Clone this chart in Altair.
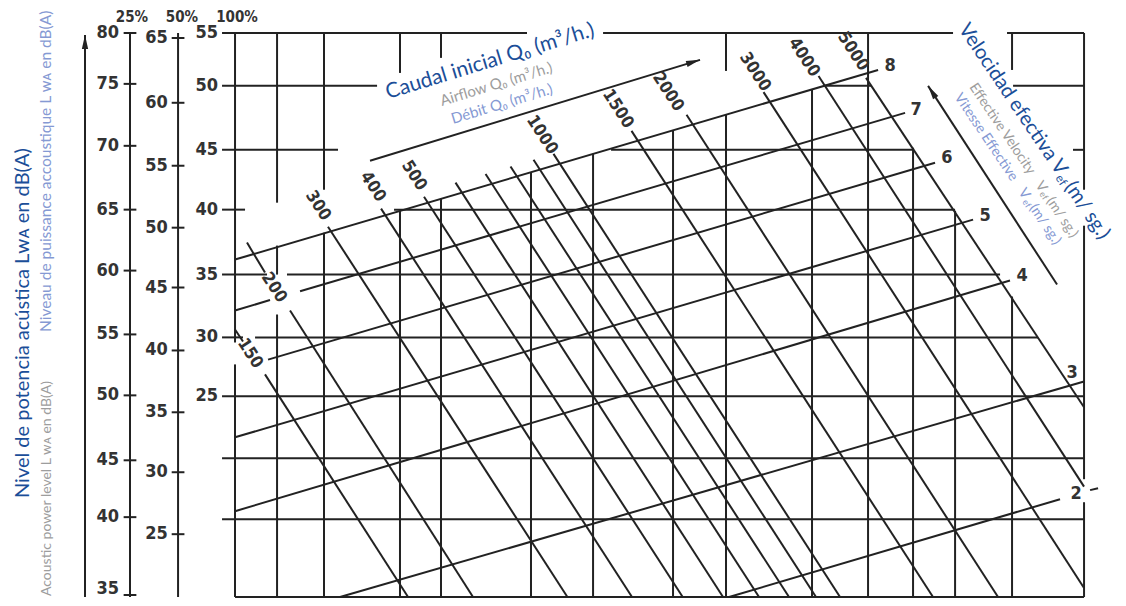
import altair as alt
import pandas as pd

# ---------------------------------------------------------------------------
# DATA
# y : sound power level dB(A) on the 100 % scale ; x : position across the grid (0..100, unlabelled)
# ---------------------------------------------------------------------------
H_LEVELS = [54.29, 50.04, 44.90, 40.09, 34.87, 29.82, 25.08, 20.10, 15.21, 8.95]
H_SPANS = [
    [(-1.53, 34.39), (43.35, 84.57), (90.93, 100.0)],
    [(-1.53, 16.73), (69.49, 74.91), (91.64, 100.0)],
    [(-1.53, 12.13), (44.29, 79.86), (98.70, 100.0)],
    [(-1.53, 1.18), (18.73, 84.81)],
    [(-1.53, 3.77), (6.12, 90.11)],
    [(-1.53, 0.94), (2.36, 94.58)],
    [(-1.53, 100.0)],
    [(-1.53, 100.0)],
    [(-1.53, 100.0)],
    [(0.0, 100.0)],
]
V_POS = [0, 4.95, 10.48, 19.43, 24.26, 34.86, 42.17, 51.59, 57.83, 67.96,
         74.56, 79.86, 84.81, 91.52, 100]
V_SPANS = [
    [(29.41, 54.29), (8.95, 27.65)],
    [(40.65, 54.29), (34.87, 37.20), (8.95, 31.66)],
    [(41.69, 54.29), (8.95, 38.24)],
    [(51.08, 54.29), (8.95, 40.01)],
    [(52.29, 54.29), (8.95, 40.97)],
    [(8.95, 43.06)],
    [(8.95, 44.58)],
    [(8.95, 46.43)],
    [(51.24, 54.29), (8.95, 47.71)],
    [(8.95, 49.72)],
    [(8.95, 54.29)],
    [(8.95, 45.06)],
    [(8.95, 40.01)],
    [(51.32, 54.29), (8.95, 33.11)],
    [(41.69, 54.29), (18.42, 38.80), (8.95, 16.57)],
]

# effective velocity lines (m/s): segments (x0, y0, x1, y1)
VEL_LABELS = ["8", "7", "6", "5", "4", "3", "2"]
VEL_SEGMENTS = [
    [(0.0, 36.08, 75.74, 51.32)],
    [(0.0, 31.98, 4.12, 32.82), (7.66, 33.53, 78.92, 47.87)],
    [(3.89, 28.03, 82.45, 43.86)],
    [(0.0, 21.79, 86.93, 39.29)],
    [(0.0, 15.85, 91.28, 34.39)],
    [(12.37, 8.95, 100.0, 26.28)],
    [(58.19, 8.95, 97.17, 16.81), (100.71, 17.54, 101.65, 17.70)],
]
VEL_LABEL_X = [77.15, 80.21, 83.86, 88.34, 92.70, 98.59, 99.06]
VEL_LABEL_Y = [51.65, 48.11, 44.26, 39.61, 34.79, 26.93, 17.22]

# initial airflow lines (m3/h)
FLOW_VALUES = [150, 200, 300, 400, 500, 600, 700, 800, 900, 1000, 1500, 2000, 3000, 4000, 5000]
FLOW_SEGMENTS = [
    [(0.0, 30.46, 0.94, 29.49), (3.53, 26.85, 20.38, 8.95)],
    [(1.41, 37.44, 3.53, 35.03), (6.48, 31.98, 28.03, 8.95)],
    [(10.95, 38.72, 39.15, 8.95)],
    [(17.20, 40.17, 46.76, 8.95)],
    [(22.26, 41.13, 52.73, 8.95)],
    [(25.97, 42.26, 57.48, 8.95)],
    [(29.51, 42.96, 61.72, 8.95)],
    [(32.45, 43.56, 65.25, 8.95)],
    [(35.16, 44.10, 68.43, 8.95)],
    [(37.51, 44.57, 71.26, 8.95)],
    [(46.70, 46.42, 82.21, 8.95)],
    [(53.18, 47.72, 89.87, 8.95)],
    [(62.25, 49.54, 100.0, 9.67)],
    [(68.73, 50.84, 100.0, 17.82)],
    [(74.32, 50.68, 100.0, 24.20)],
]
FLOW_LABELS = ["150", "200", "300", "400", "500", "1000", "1500", "2000", "3000", "4000", "5000"]
FLOW_LABEL_X = [1.77, 4.59, 9.78, 16.25, 21.09, 36.16, 45.11, 51.00, 61.25, 67.02, 72.79]
FLOW_LABEL_Y = [28.53, 33.83, 40.41, 41.93, 42.82, 46.11, 48.19, 49.56, 51.16, 52.33, 52.81]

# the three level scales (25 %, 50 %, 100 %): label value and the level on the 100 % scale it sits at
SCALE25_VALUES = [80, 75, 70, 65, 60, 55, 50, 45, 40, 35]
SCALE25_AT = [54.29, 50.20, 45.22, 40.09, 35.19, 30.06, 25.16, 19.94, 15.37, 9.11]
SCALE50_VALUES = [65, 60, 55, 50, 45, 40, 35, 30, 25]
SCALE50_AT = [53.89, 48.68, 43.62, 38.64, 33.83, 28.77, 23.80, 18.98, 14.00]
SCALE100_VALUES = [55, 50, 45, 40, 35, 30, 25]
SCALE100_AT = [54.29, 50.04, 44.90, 40.09, 34.87, 29.82, 25.08]
SCALE_HEADERS = ["25%", "50%", "100%"]

# direction arrows (x0, y0, x1, y1) ending at the arrow tip
CAUDAL_ARROW = (15.90, 44.02, 54.77, 52.13)
VELOC_ARROW = (96.82, 34.07, 81.63, 50.04)
LEFT_ARROW = (-17.67, 8.95, -17.67, 54.13)

# ---------------------------------------------------------------------------
# layout / style
# ---------------------------------------------------------------------------
INK = "#222222"
NUM = "#333333"
BLUE = "#1b4e98"
GREY = "#9d9d9d"
LBLUE = "#8599d3"
NUM_FONT = "Liberation Sans Narrow, DejaVu Sans Condensed, sans-serif"
TITLE_FONT = "Lato, Open Sans, sans-serif"
AX25, AX50, AX100 = -12.37, -6.71, 0.0
BOTTOM, TOP = 8.95, 54.29
LABEL_FLOOR = 9.6  # keep the lowest tick label inside the picture

XS = alt.Scale(domain=[-26.74, 104.0], nice=False, zero=False)
YS = alt.Scale(domain=[8.87, 56.30], nice=False, zero=False)

segs = []
for lvl, spans in zip(H_LEVELS, H_SPANS):
    for a, b in spans:
        segs.append(dict(x=a, y=lvl, x2=b, y2=lvl))
for pos, spans in zip(V_POS, V_SPANS):
    for a, b in spans:
        segs.append(dict(x=pos, y=a, x2=pos, y2=b))
for group in VEL_SEGMENTS + FLOW_SEGMENTS:
    for x0, y0, x1, y1 in group:
        segs.append(dict(x=x0, y=y0, x2=x1, y2=y1))
for ax, tick_at, half in [(AX25, SCALE25_AT, 0.75), (AX50, SCALE50_AT, 0.75)]:
    segs.append(dict(x=ax, y=BOTTOM, x2=ax, y2=TOP))
    for t in tick_at:
        segs.append(dict(x=ax - half, y=t, x2=ax + half, y2=t))
for x0, y0, x1, y1 in [CAUDAL_ARROW, VELOC_ARROW, LEFT_ARROW]:
    segs.append(dict(x=x0, y=y0, x2=x1, y2=y1))
seg_df = pd.DataFrame(segs)

rules = alt.Chart(seg_df).mark_rule(color=INK, strokeWidth=2).encode(
    x=alt.X("x:Q", scale=XS, axis=None),
    y=alt.Y("y:Q", scale=YS, axis=None),
    x2="x2:Q", y2="y2:Q",
)


def data_text(df, **kw):
    return alt.Chart(df).mark_text(**kw).encode(
        x=alt.X("x:Q", scale=XS, axis=None),
        y=alt.Y("y:Q", scale=YS, axis=None),
        text="t:N",
    )


def tick_labels(x, at, values):
    ys = [max(a, LABEL_FLOOR) for a in at]
    return pd.DataFrame(dict(x=x, y=ys, t=[str(v) for v in values]))


num_kw = dict(font=NUM_FONT, fontSize=18, fontWeight="bold", color=NUM, baseline="middle")
lab25 = data_text(tick_labels(AX25 - 1.3, SCALE25_AT, SCALE25_VALUES), align="right", **num_kw)
lab50 = data_text(tick_labels(AX50 - 1.2, SCALE50_AT, SCALE50_VALUES), align="right", **num_kw)
lab100 = data_text(tick_labels(AX100 - 2.0, SCALE100_AT, SCALE100_VALUES), align="right", **num_kw)
flow_lab = data_text(pd.DataFrame(dict(x=FLOW_LABEL_X, y=FLOW_LABEL_Y, t=FLOW_LABELS)),
                     align="center", angle=57, font=NUM_FONT, fontSize=17, fontWeight="bold",
                     color=NUM, baseline="middle")
vel_lab = data_text(pd.DataFrame(dict(x=VEL_LABEL_X, y=VEL_LABEL_Y, t=VEL_LABELS)),
                    align="center", font=NUM_FONT, fontSize=18, fontWeight="bold",
                    color=NUM, baseline="middle")

HEAD = "M0,0 L-2,-0.45 L-2,0.45 Z"


def head(x, y, angle):
    return alt.Chart(pd.DataFrame(dict(x=[x], y=[y]))).mark_point(
        shape=HEAD, filled=True, size=196, color=INK, opacity=1, strokeWidth=0, angle=angle
    ).encode(x=alt.X("x:Q", scale=XS, axis=None), y=alt.Y("y:Q", scale=YS, axis=None))


heads = [
    head(CAUDAL_ARROW[2], CAUDAL_ARROW[3], 343),
    head(VELOC_ARROW[2], VELOC_ARROW[3], 237),
    head(LEFT_ARROW[2], LEFT_ARROW[3], 270),
]


def note(t, x, y, size, color, angle=0, font=TITLE_FONT, align="left", baseline="alphabetic", weight="normal"):
    return alt.Chart(alt.Data(values=[{"t": t}])).mark_text(
        align=align, baseline=baseline, angle=angle, fontSize=size, color=color, font=font,
        fontWeight=weight,
    ).encode(x=alt.value(x), y=alt.value(y), text="t:N")


notes = [
    # scale headers
    note(SCALE_HEADERS[0], 124, 9, 15, NUM, font=NUM_FONT, align="center", baseline="middle", weight="bold"),
    note(SCALE_HEADERS[1], 174, 9, 15, NUM, font=NUM_FONT, align="center", baseline="middle", weight="bold"),
    note(SCALE_HEADERS[2], 229, 9, 15, NUM, font=NUM_FONT, align="center", baseline="middle", weight="bold"),
    # left titles
    note("Nivel de potencia acústica Lᴡᴀ  en dB(A)", 21, 490, 20, BLUE, angle=270),
    note("Acoustic power level L ᴡᴀ  en dB(A)", 43, 588, 14, GREY, angle=270),
    note("Niveau de puissance accoustique L ᴡᴀ  en dB(A)", 43, 324, 15.5, LBLUE, angle=270),
    # airflow titles
    note("Caudal inicial  Q₀ (m³/h.)", 380, 91, 21, BLUE, angle=343),
    note("Airflow Q₀ (m³/h.)", 434, 98, 15, GREY, angle=343),
    note("Débit Q₀ (m³/h.)", 445, 116, 15, LBLUE, angle=343),
    # velocity titles
    note("Velocidad efectiva", 950, 21, 20, BLUE, angle=56),
    note("V", 1042, 157, 20, BLUE, angle=56),
    note("ef", 1047, 170, 12, BLUE, angle=56),
    note("(m/ sg.)", 1056, 179, 20, BLUE, angle=56),
    note("Effective Velocity", 961, 79, 14, GREY, angle=56),
    note("V", 1027, 177, 14, GREY, angle=56),
    note("ef", 1031, 186, 9, GREY, angle=56),
    note("(m/ sg.)", 1038, 193, 14, GREY, angle=56),
    note("Vitesse Effective", 946, 89, 14, LBLUE, angle=56),
    note("V", 1010, 184, 14, LBLUE, angle=56),
    note("ef", 1014, 194, 9, LBLUE, angle=56),
    note("(m/ sg.)", 1021, 200, 14, LBLUE, angle=56),
]

chart = alt.layer(rules, lab25, lab50, lab100, flow_lab, vel_lab, *heads, *notes).properties(
    width=1110, height=590, padding=0, autosize="none", background="white"
).configure_view(stroke=None)

chart.save("out.html", embed_options={"renderer": "svg", "actions": False})
